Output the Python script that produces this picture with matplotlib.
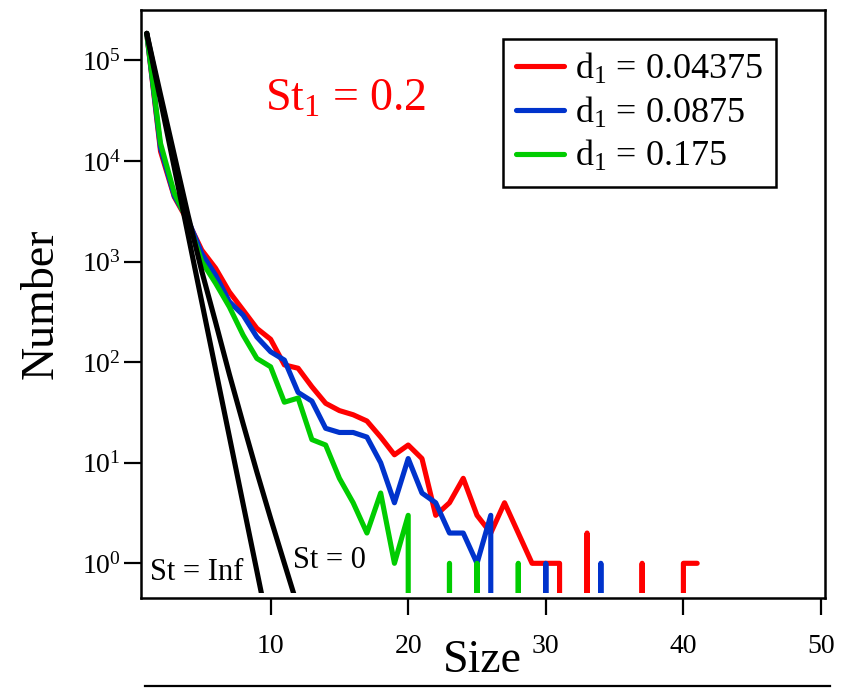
import matplotlib
matplotlib.use('Agg')
import matplotlib.pyplot as plt
import numpy as np
from matplotlib.patches import Rectangle
from matplotlib.lines import Line2D
from matplotlib.ticker import FixedLocator, NullLocator

plt.rcParams['font.family'] = ['Liberation Serif', 'DejaVu Serif']
plt.rcParams['mathtext.fontset'] = 'custom'
plt.rcParams['mathtext.rm'] = 'Liberation Serif'
plt.rcParams['mathtext.it'] = 'Liberation Serif:italic'

# cluster size distributions, St_1 = 0.2
n_d04375 = [186000, 12500, 4400, 2500, 1300, 860, 500, 330, 217, 169,
            94, 87, 57, 39, 33, 30, 26, 18, 12, 15,
            11, 3, 4, 7, 3, 2, 4, 2, 1, 1,
            1, 0, 2, 0, 0, 0, 1, 0, 0, 1, 1]
n_d0875 = [186000, 13500, 4500, 2600, 1200, 735, 400, 294, 178, 127,
           105, 50, 41, 22, 20, 20, 18, 10, 4, 11,
           5, 4, 2, 2, 1, 3, 0, 0, 0, 1,
           0, 0, 0, 1, 0]
n_d175 = [186000, 15000, 4800, 2500, 1000, 610, 355, 186, 109, 90,
          40, 44, 17, 15, 7, 4, 2, 5, 1, 3,
          0, 0, 1, 0, 1, 0, 0, 1, 0]
# limiting cases
n_st_inf = [186000, 40000, 8600, 1850, 396, 85, 18.3, 3.9, 0.84, 0.18]
n_st_0 = [186000, 45700, 11500, 2900, 800, 250, 76, 24.5, 8.1, 2.8, 1.0, 0.36]

labels = [r'd$_{\mathrm{1}}$ = 0.04375', r'd$_{\mathrm{1}}$ = 0.0875', r'd$_{\mathrm{1}}$ = 0.175']
colors = ['#ff0000', '#0033cc', '#00cc00']
xticks = [10, 20, 30, 40, 50]

W, H = 846, 688
fig = plt.figure(figsize=(W / 100, H / 100), dpi=100)
ax = fig.add_axes([140.5 / W, (H - 598) / H, (825 - 140.5) / W, 588 / H])
ax.set_yscale('log', nonpositive='clip')
ax.set_xlim(0.545, 50.29)
ax.set_ylim(10 ** -0.345, 10 ** 5.502)

# data area stops a few pixels above the bottom axis line
clip = Rectangle((0, 5 / 588), 1, 1, transform=ax.transAxes, visible=False)
ax.add_patch(clip)

lines = []
for n, c, lab in zip([n_d04375, n_d0875, n_d175], colors, labels):
    x = np.arange(1, len(n) + 1)
    ln, = ax.plot(x, n, color=c, lw=3.7, label=lab,
                  solid_joinstyle='round', solid_capstyle='round')
    lines.append(ln)
for n in [n_st_inf, n_st_0]:
    x = np.arange(1, len(n) + 1)
    ln, = ax.plot(x, n, color='black', lw=3.7,
                  solid_joinstyle='round', solid_capstyle='round')
    lines.append(ln)
for ln in lines:
    ln.set_clip_path(clip)

ax.text(1.24, 0.68, 'St = Inf', fontsize=22, va='baseline', ha='left')
ax.text(11.63, 0.90, 'St = 0', fontsize=22, va='baseline', ha='left')
ax.text(9.59, 32000, r'St$_{\mathrm{1}}$ = 0.2', fontsize=33, color='red',
        va='baseline', ha='left')

ax.xaxis.set_major_locator(FixedLocator(xticks))
ax.xaxis.set_minor_locator(NullLocator())
ax.yaxis.set_major_locator(FixedLocator([1, 10, 100, 1000, 1e4, 1e5]))
ax.yaxis.set_minor_locator(NullLocator())
ax.tick_params(axis='x', direction='out', length=12, width=1.6, pad=14, labelsize=20)
ax.tick_params(axis='y', direction='out', length=12, width=1.6, pad=2, labelsize=20)
for s in ax.spines.values():
    s.set_linewidth(1.8)

ax.set_ylabel('Number', fontsize=33, labelpad=14)
ax.set_xlabel('Size', fontsize=33, labelpad=-14)

leg = ax.legend(loc='upper right', bbox_to_anchor=(776 / W, (H - 39) / H),
                bbox_transform=fig.transFigure, borderaxespad=0,
                fontsize=26, handlelength=1.35, handletextpad=0.3,
                labelspacing=0.24, borderpad=0.35, frameon=True,
                fancybox=False, framealpha=1)
leg.get_frame().set_edgecolor('black')
leg.get_frame().set_linewidth(1.8)

# rule under the axis title
fig.add_artist(Line2D([145 / W, 830 / W], [(H - 686) / H] * 2,
                      transform=fig.transFigure, color='black', lw=1.6))

fig.savefig('out.png', dpi=100)
